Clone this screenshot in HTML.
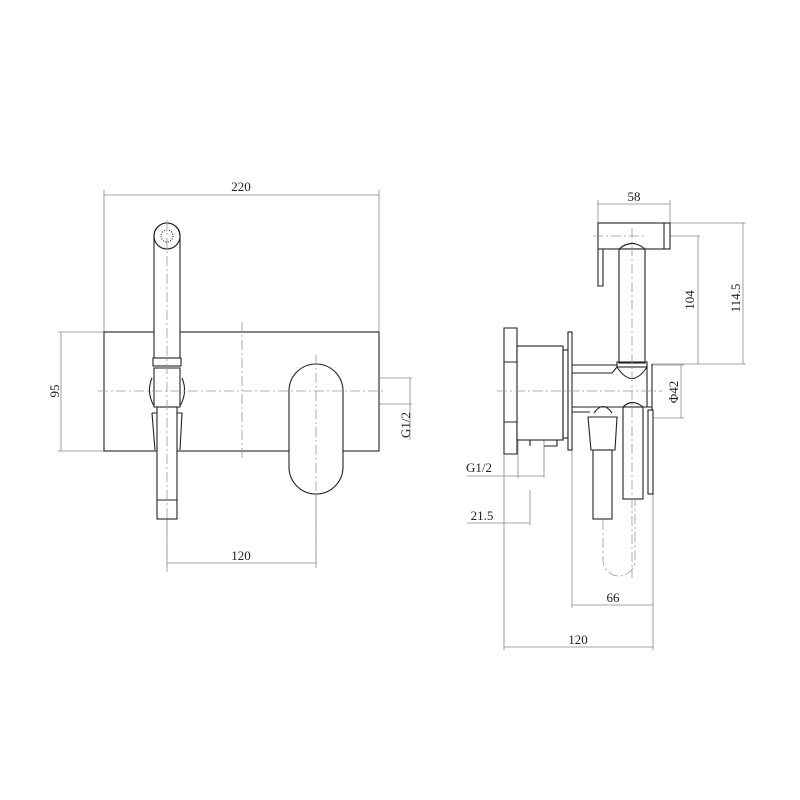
<!DOCTYPE html>
<html><head><style>body{margin:0;background:#fff}svg{display:block}</style></head><body>
<svg width="800" height="800" viewBox="0 0 800 800" xmlns="http://www.w3.org/2000/svg" font-family="Liberation Serif, serif" font-size="13">
<rect width="800" height="800" fill="#fff"/>
<g stroke="#888" stroke-width="0.8" fill="none">
<line x1="104" y1="195" x2="379" y2="195"/><line x1="104" y1="190" x2="104" y2="332"/><line x1="379" y1="190" x2="379" y2="332"/>
<line x1="61" y1="332" x2="61" y2="451"/><line x1="58" y1="332" x2="104" y2="332"/><line x1="58" y1="451" x2="104" y2="451"/>
<line x1="167" y1="563" x2="316" y2="563"/><line x1="167" y1="519" x2="167" y2="568"/><line x1="316" y1="494" x2="316" y2="568"/>
<line x1="379" y1="378" x2="412" y2="378"/><line x1="379" y1="404" x2="412" y2="404"/><line x1="410" y1="378" x2="410" y2="440"/>
<line x1="598" y1="204" x2="670" y2="204"/><line x1="598" y1="200" x2="598" y2="223"/><line x1="670" y1="200" x2="670" y2="223"/>
<line x1="670" y1="223" x2="746" y2="223"/><line x1="743" y1="223" x2="743" y2="364"/><line x1="652" y1="364" x2="746" y2="364"/>
<line x1="645" y1="236" x2="700" y2="236"/><line x1="698" y1="236" x2="698" y2="364"/>
<line x1="652" y1="365" x2="684" y2="365"/><line x1="652" y1="418" x2="684" y2="418"/><line x1="681" y1="365" x2="681" y2="418"/>
<line x1="467" y1="476" x2="544" y2="476"/><line x1="518" y1="440" x2="518" y2="478"/><line x1="544" y1="440" x2="544" y2="478"/>
<line x1="467" y1="523" x2="530" y2="523"/><line x1="530" y1="490" x2="530" y2="525"/>
<line x1="572" y1="605" x2="653" y2="605"/><line x1="572" y1="450" x2="572" y2="608"/><line x1="653" y1="494" x2="653" y2="608"/>
<line x1="504" y1="647" x2="653" y2="647"/><line x1="504" y1="454" x2="504" y2="650"/><line x1="653" y1="608" x2="653" y2="650"/>
</g>
<g stroke="#222" stroke-width="1.1" fill="none">
<rect x="104" y="332" width="275" height="119" fill="#fff"/>
<path d="M154 358 V236 A13 13 0 0 1 180 236 V358" fill="#fff"/>
<circle cx="167" cy="236" r="13"/>
<circle cx="167" cy="236" r="6" stroke-dasharray="1,1.5"/>
<rect x="153" y="358" width="28" height="8" fill="#fff"/>
<path d="M154 368 H180 V407 H154 Z" fill="#fff"/>
<path d="M152 378 Q146 392 154 406 M182 378 Q188 392 180 406"/>
<rect x="157" y="407" width="20" height="112" fill="#fff"/>
<line x1="157" y1="500" x2="177" y2="500"/>
<path d="M152 413 H157 M155 450 L152 413 M177 413 H182 L180 450"/>
<rect x="289" y="364" width="54" height="130" rx="27" fill="#fff"/>
<rect x="598" y="223" width="72" height="26" fill="#fff"/>
<line x1="664" y1="223" x2="664" y2="249"/>
<path d="M598 249 V286 H603 V249"/>
<path d="M619 249 Q632 238 645 249"/>
<rect x="619" y="249" width="26" height="114" fill="#fff"/>
<rect x="617" y="362" width="30" height="5"/>
<path d="M617 367 Q632 390 647 367"/>
<path d="M504 328 H517 V362 H504 Z M504 422 H517 V454 H504 Z M504 328 V454"/>
<rect x="517" y="346" width="46" height="94" fill="#fff"/>
<rect x="563" y="350" width="5" height="88"/>
<rect x="568" y="332" width="4" height="118" fill="#fff"/>
<path d="M517 440 H557 V446 H544 M530 446 V440"/>
<path d="M572 365 H617 M572 373 H612 L617 367 M572 407 H652 M572 412 H590"/>
<path d="M647 364 V407 M652 364 V418"/>
<path d="M594 413 Q603 400 612 413 M623 407 Q632 398 643 407"/>
<path d="M588 417 H617 L615 450 H591 Z" fill="#fff"/>
<rect x="593" y="450" width="19" height="69" fill="#fff"/>
<rect x="623" y="407" width="20" height="92" fill="#fff"/>
<rect x="648" y="410" width="5" height="84" fill="#fff"/>
</g>
<g stroke="#999" stroke-width="0.8" fill="none" stroke-dasharray="10,3,2,3">
<line x1="98" y1="391" x2="385" y2="391"/><line x1="242" y1="322" x2="242" y2="458"/>
<line x1="167" y1="220" x2="167" y2="572"/><line x1="316" y1="355" x2="316" y2="565"/>
<line x1="593" y1="236" x2="645" y2="236"/><line x1="632" y1="228" x2="632" y2="578"/>
<line x1="497" y1="391" x2="662" y2="391"/>
<path d="M603 520 V560 A16 16 0 0 0 635 560 V500"/>
</g>
<g fill="#222" text-anchor="middle">
<text x="241" y="191">220</text>
<text x="241" y="560">120</text>
<text transform="translate(59,391) rotate(-90)">95</text>
<text transform="translate(410,425) rotate(-90)">G1/2</text>
<text x="634" y="201">58</text>
<text transform="translate(694,300) rotate(-90)">104</text>
<text transform="translate(740,298) rotate(-90)">114.5</text>
<text transform="translate(678,392) rotate(-90)">Φ42</text>
<text x="479" y="472">G1/2</text>
<text x="482" y="520">21.5</text>
<text x="613" y="602">66</text>
<text x="578" y="644">120</text>
</g>
</svg>
</body></html>
